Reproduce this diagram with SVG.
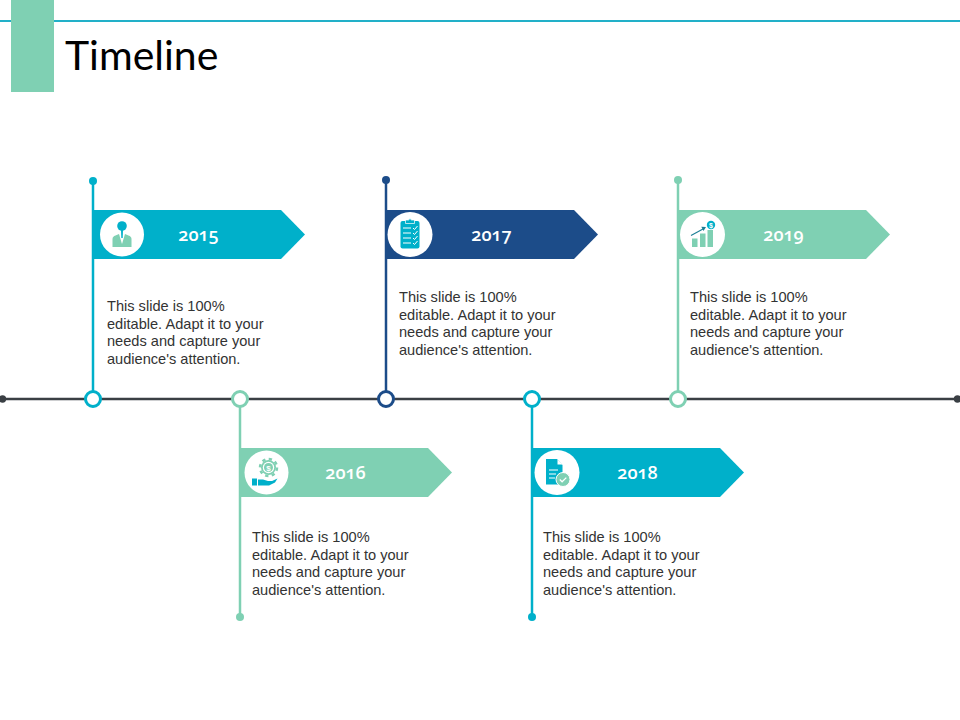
<svg xmlns="http://www.w3.org/2000/svg" width="960" height="720" viewBox="0 0 960 720">
<style>
.body{font-family:"Liberation Sans",Arial,sans-serif;font-size:14.6px;fill:#333}
.year{font-family:"Open Sans","Lato",sans-serif;font-size:18px;font-weight:600;fill:#fff;text-anchor:middle;font-variant-numeric:oldstyle-nums;font-feature-settings:"onum"}
.title{font-family:"Lato","Open Sans",sans-serif;font-size:41px;font-weight:400;fill:#000}
.teal{fill:#00b0ca}.navy{fill:#1c4c89}.mint{fill:#7fd0b3}
.steal{stroke:#00b0ca}.snavy{stroke:#1c4c89}.smint{stroke:#7fd0b3}
.stem{stroke-width:2.5;fill:none}
.ring{fill:#fff;stroke-width:3}
.disc{fill:#fff}
</style>
<rect width="960" height="720" fill="#fff"/>
<g id="header">
<line x1="0" y1="21" x2="960" y2="21" stroke="#22b0c8" stroke-width="2"/>
<rect x="11" y="0" width="43" height="92" class="mint"/>
<text x="65" y="70" class="title">Timeline</text>
</g>
<g id="connectors">
<line x1="2" y1="399" x2="958" y2="399" stroke="#3a3f44" stroke-width="2.5"/>
<circle cx="2.500" cy="399" r="3.700" fill="#3a3f44"/>
<circle cx="957.500" cy="399" r="3.700" fill="#3a3f44"/>
<line x1="93" y1="181" x2="93" y2="399" class="stem steal"/>
<line x1="240" y1="399" x2="240" y2="617" class="stem smint"/>
<line x1="386" y1="180" x2="386" y2="399" class="stem snavy"/>
<line x1="532" y1="399" x2="532" y2="617" class="stem steal"/>
<line x1="678" y1="180" x2="678" y2="399" class="stem smint"/>
<circle cx="93" cy="181" r="4" class="teal"/>
<circle cx="240" cy="617" r="4" class="mint"/>
<circle cx="386" cy="180" r="4" class="navy"/>
<circle cx="532" cy="617" r="4" class="teal"/>
<circle cx="678" cy="180" r="4" class="mint"/>
<circle cx="93" cy="399" r="7.500" class="ring steal"/>
<circle cx="240" cy="399" r="7.500" class="ring smint"/>
<circle cx="386" cy="399" r="7.500" class="ring snavy"/>
<circle cx="532" cy="399" r="7.500" class="ring steal"/>
<circle cx="678" cy="399" r="7.500" class="ring smint"/>
</g>
<g id="node-2015">
<polygon points="93,210 281,210 305,234.500 281,259 93,259" class="teal"/>
<circle cx="122" cy="234.500" r="22" class="disc"/>
<path d="M112.500,247V239Q112.500,236.500 115.500,235.500L119,234H125L128.500,235.500Q131.500,236.500 131.500,239V247Z" class="mint"/>
<path d="M119,234H125L122,244Z" fill="#fff"/>
<circle cx="122" cy="226" r="4.800" class="teal"/>
<path d="M121,230H123L122.700,238H121.300Z" class="teal"/>
<text x="198.500" y="241" class="year">2015</text>
<text class="body"><tspan x="107" y="311">This slide is 100%</tspan><tspan x="107" y="328.700">editable. Adapt it to your</tspan><tspan x="107" y="346.400">needs and capture your</tspan><tspan x="107" y="364.100">audience's attention.</tspan></text>
</g>
<g id="node-2016">
<polygon points="240,448 428,448 452,472.500 428,497 240,497" class="mint"/>
<circle cx="266.500" cy="472.500" r="22" class="disc"/>
<circle cx="268.500" cy="467.500" r="7.500" class="mint"/>
<circle cx="268.500" cy="467.500" r="8.500" fill="none" stroke="#7fd0b3" stroke-width="2.500" stroke-dasharray="3.300 3.370"/>
<circle cx="268.500" cy="467.500" r="5.700" class="disc"/>
<circle cx="268.500" cy="467.500" r="4.500" class="mint"/>
<text x="268.500" y="470.500" font-family="Liberation Sans,sans-serif" font-size="8" font-weight="700" fill="#fff" text-anchor="middle">$</text>
<rect x="252" y="478.500" width="5" height="7" class="teal"/>
<path d="M258,479.500H263L268,481H272L277.500,478.500L275,482.500L269,485.500H258Z" class="teal"/>
<text x="345.500" y="479" class="year">2016</text>
<text class="body"><tspan x="252" y="542">This slide is 100%</tspan><tspan x="252" y="559.700">editable. Adapt it to your</tspan><tspan x="252" y="577.400">needs and capture your</tspan><tspan x="252" y="595.100">audience's attention.</tspan></text>
</g>
<g id="node-2017">
<polygon points="386,210 574,210 598,234.500 574,259 386,259" class="navy"/>
<circle cx="410" cy="234.500" r="22.500" class="disc"/>
<rect x="400.500" y="221" width="19" height="27.500" rx="2" class="teal"/>
<path d="M405.500,223.500V220H408.500Q410,217.500 411.500,220H414.500V223.500Z" class="teal" stroke="#fff" stroke-width=".7"/>
<path d="M403,228H411M403,233H411M403,238H411M403,243H411M413,228l1.500,1.500L417.500,226M413,233l1.500,1.500L417.500,231M413,238l1.500,1.500L417.500,236M413,243l1.500,1.500L417.500,241" fill="none" stroke="#fff" stroke-width="1"/>
<text x="491.500" y="241" class="year">2017</text>
<text class="body"><tspan x="399" y="302">This slide is 100%</tspan><tspan x="399" y="319.700">editable. Adapt it to your</tspan><tspan x="399" y="337.400">needs and capture your</tspan><tspan x="399" y="355.100">audience's attention.</tspan></text>
</g>
<g id="node-2018">
<polygon points="532,448 720,448 744,472.500 720,497 532,497" class="teal"/>
<circle cx="557" cy="472.500" r="22.500" class="disc"/>
<path d="M546,459H557L562.500,465V484.500H546Z" class="teal"/>
<path d="M557.500,459.500L562.500,464.500H557.500Z" fill="#fff"/>
<path d="M549,470H558M549,474H556M549,478H555" stroke="#fff" stroke-width="1.200" fill="none"/>
<circle cx="563" cy="479.500" r="7" class="mint" stroke="#fff" stroke-width="1"/>
<path d="M559.800,479.500l2.300,2.300 4.200-4.200" fill="none" stroke="#fff" stroke-width="1.300"/>
<text x="637.500" y="479" class="year">2018</text>
<text class="body"><tspan x="543" y="542">This slide is 100%</tspan><tspan x="543" y="559.700">editable. Adapt it to your</tspan><tspan x="543" y="577.400">needs and capture your</tspan><tspan x="543" y="595.100">audience's attention.</tspan></text>
</g>
<g id="node-2019">
<polygon points="678,210 866,210 890,234.500 866,259 678,259" class="mint"/>
<circle cx="702.500" cy="234.500" r="22.500" class="disc"/>
<rect x="692" y="238.500" width="5.500" height="8.500" class="mint"/>
<rect x="700" y="233.500" width="5.500" height="13.500" class="mint"/>
<rect x="707.500" y="230" width="5.500" height="17" class="mint"/>
<path d="M691,235.500L703,229" stroke="#1c7f96" stroke-width="1.100" fill="none"/>
<path d="M706,227L701.300,226.800L703.500,231Z" fill="#1c7f96"/>
<circle cx="711" cy="225" r="4.200" class="teal"/>
<text x="711" y="227.500" font-family="Liberation Sans,sans-serif" font-size="7" font-weight="700" fill="#fff" text-anchor="middle">$</text>
<text x="783.500" y="241" class="year">2019</text>
<text class="body"><tspan x="690" y="302">This slide is 100%</tspan><tspan x="690" y="319.700">editable. Adapt it to your</tspan><tspan x="690" y="337.400">needs and capture your</tspan><tspan x="690" y="355.100">audience's attention.</tspan></text>
</g>
</svg>
